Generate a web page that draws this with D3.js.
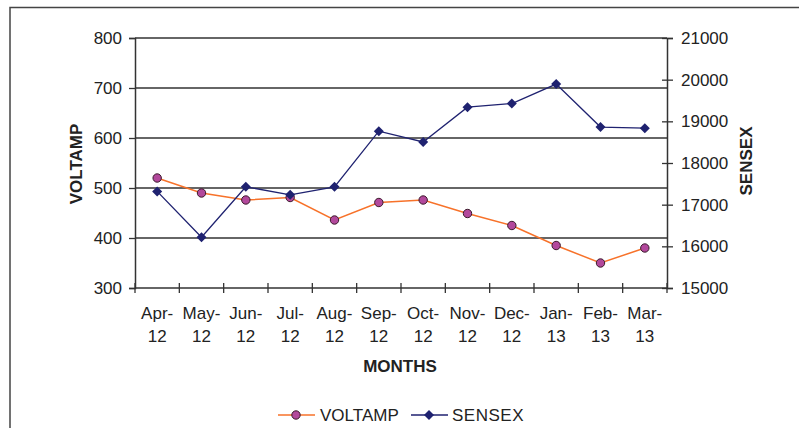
<!DOCTYPE html>
<html>
<head>
<meta charset="utf-8">
<script src="https://cdn.jsdelivr.net/npm/d3@7"></script>
<style>
  body { margin: 0; background: #fff; }
  text { font-family: "Liberation Sans", Arial, sans-serif; fill: #222; }
</style>
</head>
<body>
<div id="chart"></div>
<script>
var months = ["Apr-12", "May-12", "Jun-12", "Jul-12", "Aug-12", "Sep-12", "Oct-12", "Nov-12", "Dec-12", "Jan-13", "Feb-13", "Mar-13"];
var voltamp = [520, 490, 476, 481, 436, 471, 476, 449, 425, 385, 350, 380];
var sensex = [17318, 16219, 17430, 17236, 17429, 18763, 18505, 19340, 19427, 19895, 18862, 18836];
var leftTicks = [300, 400, 500, 600, 700, 800];
var rightTicks = [15000, 16000, 17000, 18000, 19000, 20000, 21000];

var width = 799, height = 428;
var margin = { top: 38, right: 132, bottom: 140, left: 135 };
var fs = 17;

var svg = d3.select('#chart').append('svg')
    .attr('width', width)
    .attr('height', height);

// outer frame (only top and left visible)
svg.append('path')
    .attr('d', 'M10,428 L10,7.5 L799,7.5')
    .attr('fill', 'none')
    .attr('stroke', '#444')
    .attr('stroke-width', 1.5);

var x = d3.scaleBand()
    .domain(months)
    .range([margin.left, width - margin.right]);

var yL = d3.scaleLinear()
    .domain([300, 800])
    .range([height - margin.bottom, margin.top]);

var yR = d3.scaleLinear()
    .domain([15000, 21000])
    .range([height - margin.bottom, margin.top]);

var g = svg.append('g');

// gridlines from left axis
g.selectAll('.grid')
    .data(leftTicks.slice(1))
    .enter().append('line')
    .attr('x1', margin.left)
    .attr('x2', width - margin.right)
    .attr('y1', function(d) { return yL(d); })
    .attr('y2', function(d) { return yL(d); })
    .attr('stroke', '#333')
    .attr('stroke-width', 1.3);

// left axis
var leftAxis = g.append('g')
    .attr('transform', 'translate(' + margin.left + ',0)')
    .call(d3.axisLeft(yL).tickValues(leftTicks).tickSize(6).tickPadding(7));

// right axis
var rightAxis = g.append('g')
    .attr('transform', 'translate(' + (width - margin.right) + ',0)')
    .call(d3.axisRight(yR).tickValues(rightTicks).tickSize(6).tickPadding(8).tickFormat(d3.format('d')));
rightAxis.selectAll('.tick line').attr('x1', -5);

// bottom axis: ticks sit between categories
var xBottom = height - margin.bottom;
var bottom = g.append('g');
bottom.append('line')
    .attr('x1', margin.left).attr('x2', width - margin.right)
    .attr('y1', xBottom).attr('y2', xBottom)
    .attr('stroke', '#333').attr('stroke-width', 1.5);
var bounds = months.map(function(m) { return x(m); }).concat([width - margin.right]);
bottom.selectAll('.xtick')
    .data(bounds)
    .enter().append('line')
    .attr('x1', function(d) { return d; })
    .attr('x2', function(d) { return d; })
    .attr('y1', xBottom - 5)
    .attr('y2', xBottom + 5)
    .attr('stroke', '#333')
    .attr('stroke-width', 1.3);

var xl = bottom.selectAll('.xlab')
    .data(months)
    .enter().append('text')
    .attr('text-anchor', 'middle')
    .attr('font-size', fs);
xl.append('tspan')
    .attr('x', function(d) { return x(d) + x.bandwidth() / 2; })
    .attr('y', 319)
    .text(function(d) { return d.split('-')[0] + '-'; });
xl.append('tspan')
    .attr('x', function(d) { return x(d) + x.bandwidth() / 2; })
    .attr('y', 342)
    .text(function(d) { return d.split('-')[1]; });

[leftAxis, rightAxis].forEach(function(a) {
    a.select('.domain').attr('stroke', '#333').attr('stroke-width', 1.5);
    a.selectAll('.tick line').attr('stroke', '#333').attr('stroke-width', 1.3);
    a.selectAll('.tick text').attr('font-size', fs).attr('fill', '#222')
        .attr('font-family', '"Liberation Sans", Arial, sans-serif');
});

// axis titles
svg.append('text')
    .attr('transform', 'translate(82,164) rotate(-90)')
    .attr('text-anchor', 'middle')
    .attr('font-size', fs).attr('font-weight', 'bold')
    .text('VOLTAMP');
svg.append('text')
    .attr('transform', 'translate(752,161) rotate(-90)')
    .attr('text-anchor', 'middle')
    .attr('font-size', fs).attr('font-weight', 'bold')
    .text('SENSEX');
svg.append('text')
    .attr('x', 400).attr('y', 372)
    .attr('text-anchor', 'middle')
    .attr('font-size', fs).attr('font-weight', 'bold')
    .text('MONTHS');

var cx = function(d, i) { return x(months[i]) + x.bandwidth() / 2; };

// VOLTAMP series
var orange = '#f7722a', navy = '#1f2270';
svg.append('path')
    .datum(voltamp)
    .attr('fill', 'none')
    .attr('stroke', orange)
    .attr('stroke-width', 1.5)
    .attr('d', d3.line().x(cx).y(function(d) { return yL(d); }));
svg.selectAll('.vpt')
    .data(voltamp)
    .enter().append('circle')
    .attr('cx', cx)
    .attr('cy', function(d) { return yL(d); })
    .attr('r', 4.2)
    .attr('fill', '#b2489c')
    .attr('stroke', '#3a1a2a')
    .attr('stroke-width', 1);

// SENSEX series
var diamond = d3.symbol().type(d3.symbolDiamond2).size(64);
svg.append('path')
    .datum(sensex)
    .attr('fill', 'none')
    .attr('stroke', navy)
    .attr('stroke-width', 1.3)
    .attr('d', d3.line().x(cx).y(function(d) { return yR(d); }));
svg.selectAll('.spt')
    .data(sensex)
    .enter().append('path')
    .attr('transform', function(d, i) { return 'translate(' + cx(d, i) + ',' + yR(d) + ')'; })
    .attr('d', diamond)
    .attr('fill', navy);

// legend
var leg = svg.append('g');
leg.append('line').attr('x1', 278).attr('x2', 315).attr('y1', 415).attr('y2', 415)
    .attr('stroke', orange).attr('stroke-width', 1.5);
leg.append('circle').attr('cx', 296).attr('cy', 415).attr('r', 4.2)
    .attr('fill', '#b2489c').attr('stroke', '#3a1a2a');
leg.append('text').attr('x', 320).attr('y', 421).attr('font-size', fs).text('VOLTAMP');
leg.append('line').attr('x1', 411).attr('x2', 448).attr('y1', 415).attr('y2', 415)
    .attr('stroke', navy).attr('stroke-width', 1.3);
leg.append('path').attr('transform', 'translate(429,415)').attr('d', diamond).attr('fill', navy);
leg.append('text').attr('x', 452).attr('y', 421).attr('font-size', fs).attr('letter-spacing', 0.5).text('SENSEX');
</script>
</body>
</html>
